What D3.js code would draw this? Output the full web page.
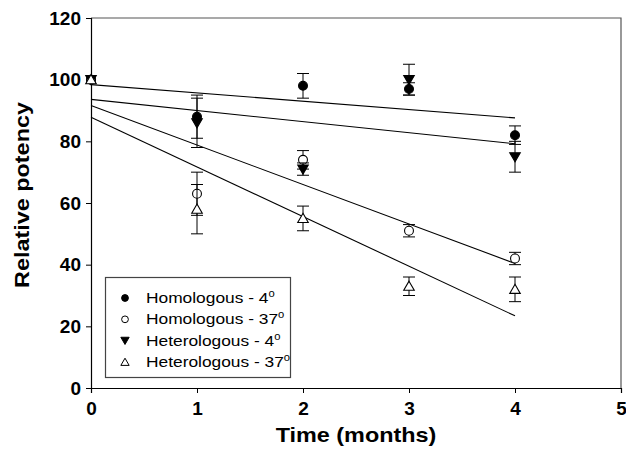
<!DOCTYPE html>
<html>
<head>
<meta charset="utf-8">
<script src="https://cdn.jsdelivr.net/npm/d3@7"></script>
<style>
  body { margin: 0; background: #fff; }
  text { font-family: "Liberation Sans", Arial, sans-serif; }
</style>
</head>
<body>
<div id="chart"></div>
<script>
// data
const months = [0, 1, 2, 3, 4];
const homo4 = [100, 88, 98, 97, 82];
const homo4Err = [0, 7, 4, 2, 3];
const homo37 = [100, 63, 74, 51, 42];
const homo37Err = [0, 7, 3, 2, 2];
const hetero4 = [100, 86, 71, 100, 75];
const hetero4Err = [0, 8, 2, 5, 5];
const hetero37 = [100, 58, 55, 33, 32];
const hetero37Err = [0, 8, 4, 3, 4];
const xTicks = [0, 1, 2, 3, 4, 5];
const yTicks = [0, 20, 40, 60, 80, 100, 120];

const series = [
  { name: "Homologous - 4", vals: homo4, err: homo4Err, sym: "circle", fill: "#000" },
  { name: "Homologous - 37", vals: homo37, err: homo37Err, sym: "circle", fill: "#fff" },
  { name: "Heterologous - 4", vals: hetero4, err: hetero4Err, sym: "down", fill: "#000" },
  { name: "Heterologous - 37", vals: hetero37, err: hetero37Err, sym: "up", fill: "#fff" }
];

let width = 626,
  height = 453;
const margin = { top: 18, right: 5, bottom: 65, left: 91 };

const x = d3.scaleLinear().domain([0, 5]).range([margin.left, width - margin.right]);
const y = d3.scaleLinear().domain([0, 120]).range([height - margin.bottom, margin.top]);

const svg = d3.select("#chart")
  .append("svg")
  .attr("width", width)
  .attr("height", height);

// frame top/right
svg.append("path")
  .attr("d", `M${x(0)},${y(120)}H${x(5)}V${y(0)}`)
  .attr("fill", "none")
  .attr("stroke", "#555")
  .attr("stroke-width", 1.2);

const xAxis = svg.append("g")
  .attr("transform", `translate(0,${y(0)})`)
  .call(d3.axisBottom(x).tickValues(xTicks).tickSize(5).tickPadding(9).tickFormat(d3.format("d")));
const yAxis = svg.append("g")
  .attr("transform", `translate(${x(0)},0)`)
  .call(d3.axisLeft(y).tickValues(yTicks).tickSize(5).tickPadding(5));

[xAxis, yAxis].forEach(g => {
  g.select(".domain").attr("stroke", "#000").attr("stroke-width", 1.2);
  g.selectAll(".tick line").attr("stroke", "#000");
  g.selectAll("text")
    .attr("font-size", 19)
    .attr("font-weight", "bold")
    .attr("font-family", "Liberation Sans, Arial, sans-serif")
    .attr("fill", "#000");
});

// least squares fit per series
function fit(vals) {
  const mx = d3.mean(months), my = d3.mean(vals);
  const b = d3.sum(months, (m, i) => (m - mx) * (vals[i] - my)) / d3.sum(months, m => (m - mx) ** 2);
  return { a: my - b * mx, b: b };
}

const plot = svg.append("g");

series.forEach(s => {
  const f = fit(s.vals);
  plot.append("line")
    .attr("x1", x(0)).attr("y1", y(f.a))
    .attr("x2", x(4)).attr("y2", y(f.a + f.b * 4))
    .attr("stroke", "#000")
    .attr("stroke-width", 1.1);
});

function symbolPath(sym, size) {
  if (sym == "circle") return d3.symbol(d3.symbolCircle, size)();
  return d3.symbol(d3.symbolTriangle, size)();
}

series.forEach(s => {
  const pts = months.map((m, i) => ({ m: m, v: s.vals[i], e: s.err[i] }));
  const g = plot.append("g");

  const eb = g.selectAll("g.err")
    .data(pts.filter(d => d.e > 0))
    .join("g");
  eb.append("line")
    .attr("x1", d => x(d.m)).attr("x2", d => x(d.m))
    .attr("y1", d => y(d.v - d.e)).attr("y2", d => y(d.v + d.e))
    .attr("stroke", "#000");
  [-1, 1].forEach(k => {
    eb.append("line")
      .attr("x1", d => x(d.m) - 6).attr("x2", d => x(d.m) + 6)
      .attr("y1", d => y(d.v + k * d.e)).attr("y2", d => y(d.v + k * d.e))
      .attr("stroke", "#000");
  });

  g.selectAll("path")
    .data(pts)
    .join("path")
    .attr("d", symbolPath(s.sym, s.sym == "circle" ? 62 : 48))
    .attr("transform", d => `translate(${x(d.m)},${y(d.v) + (s.sym == "up" ? 1 : s.sym == "down" ? -1 : 0)})` + (s.sym == "down" ? " rotate(180)" : ""))
    .attr("fill", s.fill)
    .attr("stroke", "#000")
    .attr("stroke-width", 1.1);
});

// legend
const legend = svg.append("g");
legend.append("rect")
  .attr("x", 105.5).attr("y", 277.5)
  .attr("width", 185).attr("height", 100)
  .attr("fill", "#fff")
  .attr("stroke", "#444")
  .attr("stroke-width", 1.2);

const rowY = d3.scalePoint().domain(series.map(s => s.name)).range([298, 362]);

series.forEach(s => {
  const cy = rowY(s.name);
  legend.append("path")
    .attr("d", symbolPath(s.sym, s.sym == "circle" ? 36 : 30))
    .attr("transform", `translate(125,${cy + (s.sym == "up" ? 1 : s.sym == "down" ? -1 : 0)})` + (s.sym == "down" ? " rotate(180)" : ""))
    .attr("fill", s.fill)
    .attr("stroke", "#000")
    .attr("stroke-width", 1);
  const t = legend.append("text")
    .attr("transform", `translate(146,${cy + 5}) scale(1.12,1)`)
    .attr("font-size", 15.5)
    .attr("fill", "#000");
  t.append("tspan").text(s.name);
  t.append("tspan").attr("font-size", 10).attr("dy", -6).text("o");
});

// axis titles
svg.append("text")
  .attr("transform", `translate(${(x(0) + x(5)) / 2},442) scale(1.17,1)`)
  .attr("text-anchor", "middle")
  .attr("font-size", 20)
  .attr("font-weight", "bold")
  .text("Time (months)");

svg.append("text")
  .attr("transform", `translate(29,195) rotate(-90) scale(1.17,1)`)
  .attr("text-anchor", "middle")
  .attr("font-size", 20)
  .attr("font-weight", "bold")
  .text("Relative potency");
</script>
</body>
</html>
